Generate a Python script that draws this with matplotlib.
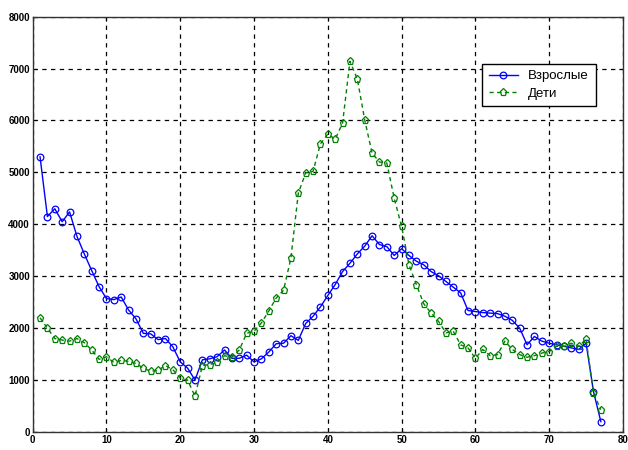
import matplotlib
matplotlib.use("Agg")
import matplotlib.pyplot as plt
import numpy as np

x = list(range(1, 78))
adults = [5300, 4150, 4300, 4050, 4240, 3770, 3430, 3110, 2800, 2570,
          2550, 2600, 2350, 2180, 1900, 1890, 1780, 1800, 1640, 1350,
          1230, 1000, 1390, 1410, 1450, 1580, 1420, 1420, 1480, 1350,
          1410, 1540, 1700, 1710, 1855, 1765, 2090, 2230, 2410, 2630,
          2840, 3090, 3250, 3430, 3580, 3780, 3610, 3570, 3400, 3530,
          3400, 3290, 3220, 3090, 3010, 2900, 2790, 2680, 2340, 2320,
          2300, 2290, 2280, 2230, 2150, 2000, 1680, 1840, 1750, 1710,
          1680, 1650, 1620, 1590, 1710, 780, 200]
children = [2200, 2000, 1800, 1770, 1750, 1800, 1720, 1580, 1400, 1450,
            1340, 1380, 1360, 1320, 1230, 1170, 1190, 1280, 1200, 1040,
            1000, 690, 1280, 1300, 1340, 1470, 1440, 1580, 1900, 1940,
            2100, 2330, 2580, 2730, 3350, 4600, 4990, 5020, 5550, 5740,
            5640, 5950, 7140, 6800, 6010, 5370, 5200, 5180, 4500, 3960,
            3220, 2840, 2470, 2290, 2130, 1910, 1940, 1680, 1620, 1420,
            1590, 1470, 1490, 1750, 1590, 1490, 1440, 1470, 1520, 1550,
            1650, 1650, 1710, 1650, 1790, 750, 430]
labels = ["Взрослые", "Дети"]
xticks = [0, 10, 20, 30, 40, 50, 60, 70, 80]
yticks = [0, 1000, 2000, 3000, 4000, 5000, 6000, 7000, 8000]

fam = ["Liberation Sans Narrow", "Liberation Sans", "DejaVu Sans"]
plt.rcParams["font.family"] = fam

fig = plt.figure(figsize=(6.28, 4.5), dpi=100)
ax = fig.add_axes([0.052, 0.04, 0.940, 0.923])

ax.plot(x, adults, color=(0, 0, 1), lw=1.0, ls="-", marker="o",
        markersize=4.8, markerfacecolor="none", markeredgewidth=0.9,
        label=labels[0])
ax.plot(x, children, color=(0, 0.5, 0), lw=1.0, ls=(0, (3, 2.5)), marker="p",
        markersize=5.2, markerfacecolor="none", markeredgewidth=0.9,
        label=labels[1])

ax.set_xlim(0, 80)
ax.set_ylim(0, 8000)
ax.set_xticks(xticks)
ax.set_yticks(yticks)
ax.set_xticklabels([str(t) for t in xticks], fontsize=7, fontweight="bold")
ax.set_yticklabels([str(t) for t in yticks], fontsize=7, fontweight="bold")
ax.tick_params(direction="in", top=True, right=True, length=3, width=0.8,
               pad=2)
ax.grid(True, color="black", ls=(0, (3.5, 3.5)), lw=0.9)
for s in ax.spines.values():
    s.set_color("#333333")
    s.set_linewidth(1.0)

leg = ax.legend(loc="upper left", bbox_to_anchor=(0.75, 0.903),
                fontsize=9.5, fancybox=False, edgecolor="black",
                framealpha=1, handlelength=2.2, borderpad=0.5,
                labelspacing=0.4)
leg.get_frame().set_linewidth(1.0)

fig.savefig("out.png", dpi=100)
